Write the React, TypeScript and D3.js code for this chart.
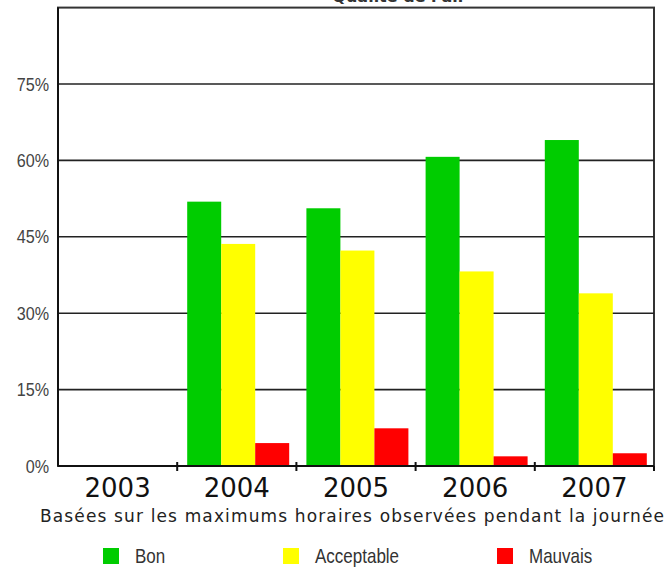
import React from "react";
import * as d3 from "d3";

// Share of days per air-quality class, by year (%)
const years = ["2003", "2004", "2005", "2006", "2007"];
const bon = [0, 51.9, 50.6, 60.7, 64.0];
const acceptable = [0, 43.6, 42.3, 38.2, 33.9];
const mauvais = [0, 4.5, 7.4, 1.9, 2.5];
const seriesNames = ["Bon", "Acceptable", "Mauvais"];
const seriesColors = ["#00CC00", "#FFFF00", "#FF0000"];
const yTicks = [0, 15, 30, 45, 60, 75];
const yTickLabels = ["0%", "15%", "30%", "45%", "60%", "75%"];
const subtitle = "Basées sur les maximums horaires observées pendant la journée";
const title = "Qualité de l'air";

const W = 668;
const H = 570;
const plot = { left: 58, right: 654, top: 7.6, bottom: 466 };
const narrow = "'Liberation Sans', Arial, sans-serif";

export default function App() {
  const x = d3
    .scaleBand<string>()
    .domain(years)
    .range([plot.left, plot.right]);
  const y = d3.scaleLinear().domain([0, 90]).range([plot.bottom, plot.top]);
  const inner = d3
    .scaleBand<string>()
    .domain(seriesNames)
    .range([10, 112])
    .padding(0);
  const series = [bon, acceptable, mauvais];
  const bw = x.bandwidth();

  return (
    <svg
      width={W}
      height={H}
      style={{ position: "absolute", left: 0, top: 0, background: "#fff" }}
    >
      <rect x={0} y={0} width={W} height={H} fill="#fff" />
      <text
        x={399}
        y={1.5}
        textAnchor="middle"
        fontFamily="DejaVu Sans"
        fontWeight="bold"
        fontSize={16}
        fill="#333"
      >
        {title}
      </text>

      {/* plot frame and gridlines */}
      <rect
        x={plot.left}
        y={plot.top}
        width={plot.right - plot.left}
        height={plot.bottom - plot.top}
        fill="#fff"
        stroke="#333"
        strokeWidth={2}
      />
      {yTicks
        .filter((t) => t > 0)
        .map((t) => (
          <line
            key={t}
            x1={plot.left}
            x2={plot.right}
            y1={y(t)}
            y2={y(t)}
            stroke="#222"
            strokeWidth={1.6}
          />
        ))}

      {/* bars */}
      {years.map((yr, i) =>
        series.map((s, j) => {
          const v = s[i];
          if (v <= 0) return null;
          return (
            <rect
              key={yr + j}
              x={(x(yr) as number) + (inner(seriesNames[j]) as number)}
              y={y(v)}
              width={inner.bandwidth()}
              height={y(0) - y(v)}
              fill={seriesColors[j]}
            />
          );
        })
      )}

      {/* axes */}
      <line
        x1={plot.left}
        x2={plot.left}
        y1={plot.top}
        y2={plot.bottom}
        stroke="#111"
        strokeWidth={2}
      />
      <line
        x1={plot.left}
        x2={plot.right}
        y1={plot.bottom}
        y2={plot.bottom}
        stroke="#111"
        strokeWidth={2}
      />
      {years.slice(1).map((yr) => (
        <line
          key={"t" + yr}
          x1={x(yr) as number}
          x2={x(yr) as number}
          y1={plot.bottom - 4}
          y2={plot.bottom + 5}
          stroke="#111"
          strokeWidth={2}
        />
      ))}
      <line
        x1={plot.right}
        x2={plot.right}
        y1={plot.bottom}
        y2={plot.bottom + 5}
        stroke="#111"
        strokeWidth={2}
      />

      {yTicks.map((t, i) => (
        <text
          key={"yl" + t}
          transform={`translate(49,${y(t) + 6.5}) scale(0.85,1)`}
          textAnchor="end"
          fontFamily={narrow}
          fontSize={19}
          fill="#444"
        >
          {yTickLabels[i]}
        </text>
      ))}

      {years.map((yr) => (
        <text
          key={"xl" + yr}
          x={(x(yr) as number) + bw / 2}
          y={496.5}
          textAnchor="middle"
          fontFamily="DejaVu Sans"
          fontSize={26}
          fill="#111"
        >
          {yr}
        </text>
      ))}

      <text
        x={40}
        y={522}
        fontFamily="DejaVu Sans"
        fontSize={17}
        textLength={624}
        lengthAdjust="spacing"
        fill="#222"
      >
        {subtitle}
      </text>

      {/* legend */}
      {seriesNames.map((name, j) => {
        const lx = [103, 283, 497][j];
        return (
          <g key={"lg" + name}>
            <rect x={lx} y={548} width={16} height={16} fill={seriesColors[j]} />
            <text
              transform={`translate(${lx + 32},563) scale(0.85,1)`}
              fontFamily={narrow}
              fontSize={20}
              fill="#333"
            >
              {name}
            </text>
          </g>
        );
      })}
    </svg>
  );
}
